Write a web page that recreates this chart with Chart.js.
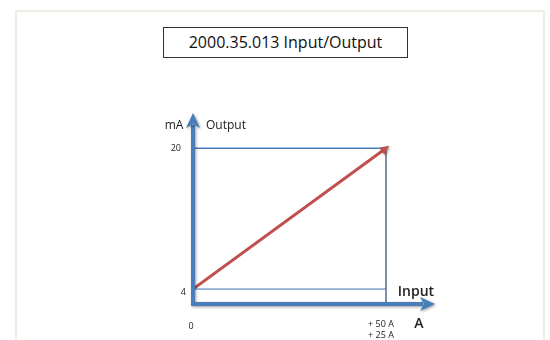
<!DOCTYPE html>
<html>
<head>
<meta charset="utf-8">
<title>2000.35.013 Input/Output</title>
<script src="https://cdn.jsdelivr.net/npm/chart.js@4.4.0/dist/chart.umd.min.js"></script>
<style>
  * { margin: 0; padding: 0; box-sizing: border-box; }
  body { width: 550px; height: 340px; background: #fff; overflow: hidden; position: relative; font-family: 'Open Sans', sans-serif; }
  .frame { position: absolute; left: 15px; top: 10px; width: 530px; height: 340px; border: 2px solid #f0ede4; border-bottom: none; }
  .title { position: absolute; left: 163px; top: 27px; width: 245px; height: 31px; border: 1px solid #333; font-size: 16px; line-height: 29px; text-align: center; color: #111; }
  canvas { position: absolute; left: 0; top: 0; }
</style>
</head>
<body>
<div class="frame"></div>
<div class="title">2000.35.013 Input/Output</div>
<canvas id="chart" width="550" height="340"></canvas>
<script>
// input in A, output in mA
const inputA = [0, 50];
const outputMA = [4, 20];
const xTicks = [0, 50];
const xTickLabels = ['0', ['+ 50 A', '+ 25 A']];
const yTicks = [4, 20];
const yTickLabels = ['4', '20'];

const BLUE = '#4a7ebb';
const RED = '#c0504d';

// arrows, ticks and axis titles, placed with the chart's own scales
const axesPlugin = {
  id: 'axesArrows',
  afterDatasetsDraw(chart) {
    const { ctx, chartArea: a, scales: { x, y } } = chart;
    ctx.save();

    // red arrowhead at the end of the transfer line
    const x0 = x.getPixelForValue(inputA[0]), y0 = y.getPixelForValue(outputMA[0]);
    const x1 = x.getPixelForValue(inputA[1]), y1 = y.getPixelForValue(outputMA[1]);
    const ang = Math.atan2(y1 - y0, x1 - x0);
    const tx = x1 + 4 * Math.cos(ang), ty = y1 + 4 * Math.sin(ang);
    ctx.fillStyle = RED;
    ctx.shadowColor = 'rgba(0,0,0,0.4)';
    ctx.shadowBlur = 3; ctx.shadowOffsetX = 1; ctx.shadowOffsetY = 1;
    ctx.beginPath();
    ctx.moveTo(tx, ty);
    ctx.lineTo(tx - 10 * Math.cos(ang - 0.45), ty - 10 * Math.sin(ang - 0.45));
    ctx.lineTo(tx - 10 * Math.cos(ang + 0.45), ty - 10 * Math.sin(ang + 0.45));
    ctx.closePath();
    ctx.fill();

    // thick blue axes with arrows
    ctx.strokeStyle = BLUE;
    ctx.fillStyle = BLUE;
    ctx.lineWidth = 4;
    ctx.beginPath();
    ctx.moveTo(a.left, a.bottom);
    ctx.lineTo(a.left, a.top + 12);
    ctx.moveTo(a.left - 2, a.bottom);
    ctx.lineTo(a.right - 12, a.bottom);
    ctx.stroke();
    ctx.beginPath();
    ctx.moveTo(a.left, a.top);
    ctx.lineTo(a.left - 7, a.top + 15);
    ctx.lineTo(a.left, a.top + 11);
    ctx.lineTo(a.left + 7, a.top + 15);
    ctx.closePath();
    ctx.fill();
    ctx.beginPath();
    ctx.moveTo(a.right, a.bottom);
    ctx.lineTo(a.right - 15, a.bottom - 7);
    ctx.lineTo(a.right - 11, a.bottom);
    ctx.lineTo(a.right - 15, a.bottom + 7);
    ctx.closePath();
    ctx.fill();
    ctx.shadowColor = 'transparent';

    // tick labels
    ctx.fillStyle = '#222';
    ctx.textBaseline = 'middle';
    ctx.font = '9px "Open Sans"';
    ctx.textAlign = 'right';
    yTicks.forEach((v, i) => {
      const py = y.getPixelForValue(v) + (v === 4 ? 3 : 0);
      ctx.fillText(yTickLabels[i], a.left - (v === 4 ? 7 : 12), py);
    });
    ctx.textAlign = 'center';
    xTicks.forEach((v, i) => {
      const px = x.getPixelForValue(v) - (v === 0 ? 2 : 5);
      const lines = [].concat(xTickLabels[i]);
      ctx.font = lines.length > 1 ? '9px "Liberation Sans Narrow", "Open Sans"' : '9px "Open Sans"';
      lines.forEach((t, j) => ctx.fillText(t, px, a.bottom + (lines.length > 1 ? 20 : 22) + j * 11));
    });

    // axis titles
    ctx.font = '12px "Open Sans"';
    ctx.textAlign = 'center';
    ctx.fillText('mA', a.left - 19, a.top + 13);
    ctx.textAlign = 'left';
    ctx.fillText('Output', a.left + 13, a.top + 13);
    ctx.font = '600 14px "Open Sans"';
    ctx.textAlign = 'center';
    ctx.fillText('Input', a.right - 19, a.bottom - 12);
    ctx.font = '600 14px "Open Sans"';
    ctx.fillText('A', a.right - 16, a.bottom + 20);
    ctx.restore();
  }
};

new Chart(document.getElementById('chart'), {
  type: 'line',
  data: {
    datasets: [
      {
        data: [{ x: inputA[0], y: outputMA[1] }, { x: inputA[1], y: outputMA[1] }],
        borderColor: BLUE, borderWidth: 1.5, pointRadius: 0
      },
      {
        data: [{ x: inputA[0], y: outputMA[0] }, { x: inputA[1], y: outputMA[0] }],
        borderColor: '#3f6fb0', borderWidth: 1, pointRadius: 0
      },
      {
        data: [{ x: inputA[1], y: outputMA[1] }, { x: inputA[1], y: 2.3 }],
        borderColor: '#6f7f99', borderWidth: 1, pointRadius: 0
      },
      {
        data: inputA.map((v, i) => ({ x: v, y: outputMA[i] })),
        borderColor: RED, borderWidth: 3, pointRadius: 0
      }
    ]
  },
  options: {
    responsive: false,
    animation: false,
    events: [],
    layout: { padding: { left: 193, right: 115, top: 113, bottom: 36 } },
    plugins: { legend: { display: false }, tooltip: { enabled: false }, title: { display: false } },
    scales: {
      x: { type: 'linear', min: 0, max: 62.7, display: false },
      y: { type: 'linear', min: 2.3, max: 24, display: false }
    }
  },
  plugins: [axesPlugin]
});
</script>
</body>
</html>
